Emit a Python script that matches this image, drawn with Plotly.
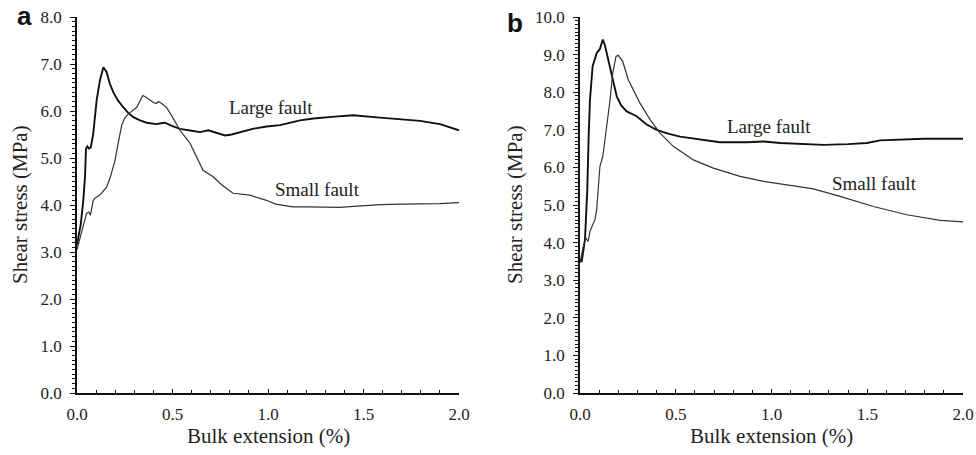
import plotly.graph_objects as go
from plotly.subplots import make_subplots

# ---- Panel a data ----
a_large_x = [0, 0.02, 0.033, 0.042, 0.047, 0.055, 0.062, 0.072, 0.085, 0.103, 0.12, 0.138, 0.155, 0.172,
             0.19, 0.215, 0.242, 0.268, 0.295, 0.33, 0.365, 0.417, 0.44, 0.46, 0.5, 0.539, 0.6, 0.644,
             0.687, 0.73, 0.775, 0.81, 0.853, 0.92, 0.993, 1.063, 1.168, 1.237, 1.35, 1.447, 1.586,
             1.7, 1.796, 1.9, 2.0]
a_large_y = [3.15, 3.6, 4.1, 4.6, 5.2, 5.25, 5.2, 5.22, 5.52, 6.23, 6.65, 6.93, 6.83, 6.58,
             6.4, 6.22, 6.08, 5.96, 5.87, 5.8, 5.75, 5.72, 5.74, 5.75, 5.68, 5.62, 5.58, 5.55,
             5.59, 5.53, 5.48, 5.5, 5.55, 5.62, 5.67, 5.7, 5.8, 5.84, 5.88, 5.91, 5.86,
             5.83, 5.79, 5.72, 5.59]

a_small_x = [0, 0.02, 0.04, 0.05, 0.062, 0.07, 0.085, 0.095, 0.12, 0.14, 0.155, 0.175, 0.199, 0.215,
             0.234, 0.25, 0.269, 0.313, 0.344, 0.36, 0.372, 0.4, 0.416, 0.426, 0.44, 0.468, 0.5,
             0.539, 0.592, 0.63, 0.66, 0.713, 0.76, 0.817, 0.87, 0.905, 0.95, 0.992, 1.04, 1.08,
             1.13, 1.2, 1.3, 1.377, 1.45, 1.586, 1.7, 1.796, 1.9, 2.0]
a_small_y = [3.05, 3.35, 3.65, 3.82, 3.85, 3.78, 4.1, 4.15, 4.21, 4.3, 4.38, 4.6, 4.95, 5.3,
             5.7, 5.85, 5.94, 6.08, 6.33, 6.3, 6.26, 6.18, 6.16, 6.2, 6.17, 6.08, 5.87,
             5.59, 5.31, 5.0, 4.74, 4.6, 4.42, 4.25, 4.22, 4.21, 4.15, 4.1, 4.02, 4.0,
             3.96, 3.96, 3.95, 3.95, 3.97, 4.01, 4.02, 4.02, 4.03, 4.05]

# ---- Panel b data ----
b_large_x = [0, 0.009, 0.026, 0.038, 0.045, 0.052, 0.066, 0.087, 0.104, 0.119, 0.13, 0.14, 0.166,
             0.192, 0.215, 0.244, 0.296, 0.348, 0.4, 0.46, 0.522, 0.61, 0.731, 0.871, 0.958, 1.045,
             1.15, 1.271, 1.4, 1.498, 1.567, 1.7, 1.794, 2.0]
b_large_y = [3.5, 3.5, 4.08, 5.4, 6.8, 7.8, 8.69, 9.04, 9.15, 9.4, 9.25, 9.04, 8.42,
             7.89, 7.65, 7.49, 7.36, 7.14, 7.0, 6.9, 6.82, 6.76, 6.67, 6.67, 6.69, 6.65,
             6.62, 6.6, 6.62, 6.65, 6.72, 6.75, 6.76, 6.76]

b_small_x = [0, 0.017, 0.031, 0.043, 0.052, 0.078, 0.087, 0.101, 0.104, 0.119, 0.136, 0.157, 0.171,
             0.188, 0.2, 0.223, 0.252, 0.313, 0.366, 0.418, 0.487, 0.592, 0.696, 0.836, 0.958,
             1.045, 1.219, 1.358, 1.532, 1.707, 1.881, 2.0]
b_small_y = [3.46, 3.9, 4.12, 4.03, 4.3, 4.61, 4.87, 5.67, 6.03, 6.29, 6.91, 7.8, 8.51,
             8.95, 8.98, 8.82, 8.33, 7.71, 7.27, 6.91, 6.56, 6.2, 5.98, 5.76, 5.63,
             5.56, 5.43, 5.23, 4.96, 4.74, 4.59, 4.55]

x_range = [0, 2.0]
a_y_range = [0, 8.0]
b_y_range = [0, 10.0]
x_title = "Bulk extension (%)"
y_title = "Shear stress (MPa)"

SERIF = "Liberation Serif"
TXT = "#222222"

fig = make_subplots(rows=1, cols=2)

large_style = dict(color="#111111", width=1.9)
small_style = dict(color="#333333", width=1.2)

fig.add_trace(go.Scatter(x=a_large_x, y=a_large_y, mode="lines", line=large_style,
                         name="Large fault", showlegend=False), row=1, col=1)
fig.add_trace(go.Scatter(x=a_small_x, y=a_small_y, mode="lines", line=small_style,
                         name="Small fault", showlegend=False), row=1, col=1)
fig.add_trace(go.Scatter(x=b_large_x, y=b_large_y, mode="lines", line=large_style,
                         name="Large fault", showlegend=False), row=1, col=2)
fig.add_trace(go.Scatter(x=b_small_x, y=b_small_y, mode="lines", line=small_style,
                         name="Small fault", showlegend=False), row=1, col=2)

xcommon = dict(range=x_range, dtick=0.5, tickformat=".1f", showline=True, linecolor="#111111",
               linewidth=1.5, ticks="inside", ticklen=4, tickcolor="#111111", tickwidth=1.3,
               showgrid=False, zeroline=False, mirror=False, ticklabelstandoff=5, automargin=False,
               tickfont=dict(family=SERIF, size=17, color=TXT),
               minor=dict(dtick=0.1, ticks="inside", ticklen=3, tickcolor="#111111", tickwidth=1,
                          showgrid=False))
ycommon = dict(dtick=1.0, tickformat=".1f", showline=True, linecolor="#111111",
               linewidth=1.5, ticks="outside", ticklen=5, tickcolor="#111111", tickwidth=1.3,
               showgrid=False, zeroline=False, mirror=False, ticklabelstandoff=5, automargin=False,
               tickfont=dict(family=SERIF, size=17, color=TXT),
               minor=dict(dtick=0.1, ticks="outside", ticklen=3, tickcolor="#111111", tickwidth=1,
                          showgrid=False))

fig.update_layout(
    width=976, height=455,
    margin=dict(l=0, r=0, t=17, b=62, autoexpand=False),
    plot_bgcolor="white", paper_bgcolor="white",
    xaxis=dict(domain=[77 / 976, 459 / 976], **xcommon),
    xaxis2=dict(domain=[580 / 976, 963 / 976], **xcommon),
    yaxis=dict(range=a_y_range, **ycommon),
    yaxis2=dict(range=b_y_range, **ycommon),
)

ann = []
lab_font = dict(family=SERIF, size=19, color=TXT)
# series labels
ann.append(dict(x=0.785, y=6.08, xref="x", yref="y", text="Large fault", showarrow=False,
                xanchor="left", yanchor="middle", font=lab_font))
ann.append(dict(x=1.026, y=4.32, xref="x", yref="y", text="Small fault", showarrow=False,
                xanchor="left", yanchor="middle", font=lab_font))
ann.append(dict(x=0.758, y=7.09, xref="x2", yref="y2", text="Large fault", showarrow=False,
                xanchor="left", yanchor="middle", font=lab_font))
ann.append(dict(x=1.306, y=5.585, xref="x2", yref="y2", text="Small fault", showarrow=False,
                xanchor="left", yanchor="middle", font=lab_font))
# axis titles
for xc in (268 / 976, 771.5 / 976):
    ann.append(dict(x=xc, y=(393 - 436) / 376, xref="paper", yref="paper", text=x_title,
                    showarrow=False, xanchor="center", yanchor="middle",
                    font=dict(family=SERIF, size=21, color=TXT)))
for xc in (20 / 976, 515 / 976):
    ann.append(dict(x=xc, y=0.5, xref="paper", yref="paper", text=y_title, textangle=-90,
                    showarrow=False, xanchor="center", yanchor="middle",
                    font=dict(family=SERIF, size=21, color=TXT)))
# panel letters
ann.append(dict(x=24 / 976, y=(393 - 16) / 376, xref="paper", yref="paper", text="<b>a</b>",
                showarrow=False, xanchor="center", yanchor="middle",
                font=dict(family="Liberation Sans", size=26, color="#111111")))
ann.append(dict(x=515 / 976, y=(393 - 23) / 376, xref="paper", yref="paper", text="<b>b</b>",
                showarrow=False, xanchor="center", yanchor="middle",
                font=dict(family="Liberation Sans", size=26, color="#111111")))
fig.update_layout(annotations=ann)

fig.write_html("out.html", config={"displayModeBar": False},
               post_script="document.body.style.margin='0';")
